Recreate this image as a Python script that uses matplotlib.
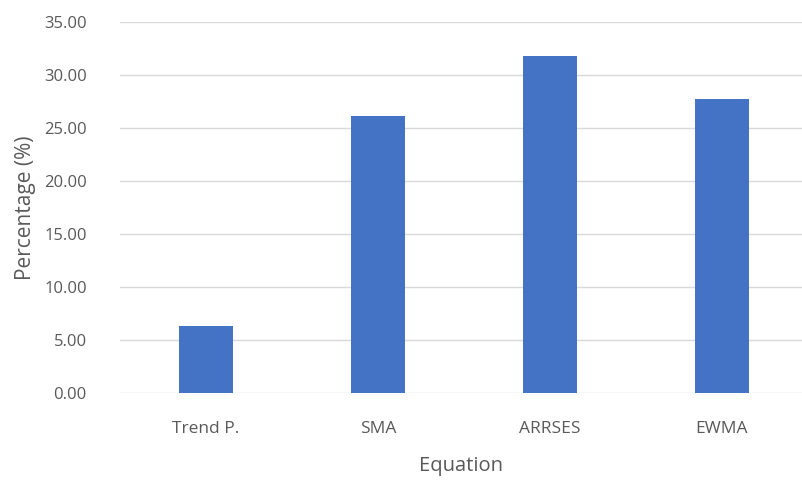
import numpy as np
import matplotlib
matplotlib.use('Agg')
from matplotlib import pyplot as plt

plt.rcParams['font.family'] = ['Open Sans', 'DejaVu Sans']

# 各方法的百分比
methods = ['Trend P.', 'SMA', 'ARRSES', 'EWMA']
percentage = [6.3, 26.1, 31.8, 27.7]
yticks = [0, 5, 10, 15, 20, 25, 30, 35]

text_color = '#595959'

fig = plt.figure(figsize=(8.03, 4.86), dpi=100)
ax = fig.add_axes([120 / 803, 1 - 393 / 486, 683 / 803, (393 - 22) / 486])

x = np.arange(len(methods))
ax.bar(x, percentage, width=0.31, color='#4472C4', zorder=3)

ax.set_xlim(-0.5, -0.5 + 683 / 172)
ax.set_ylim(0, 35)
ax.set_yticks(yticks)
ax.set_yticklabels(['%.2f' % v for v in yticks])
ax.set_xticks(x)
ax.set_xticklabels(methods)

ax.grid(axis='y', color='#D9D9D9', linewidth=1.0, zorder=0)
for s in ax.spines.values():
    s.set_visible(False)
ax.tick_params(axis='both', length=0, colors=text_color)
ax.tick_params(axis='y', pad=24, labelsize=12)
ax.tick_params(axis='x', pad=20, labelsize=12.5)

ax.set_ylabel('Percentage (%)', fontsize=15, color=text_color, labelpad=6)
ax.set_xlabel('Equation', fontsize=14.5, color=text_color, labelpad=14)

fig.savefig('out.png', dpi=100)
